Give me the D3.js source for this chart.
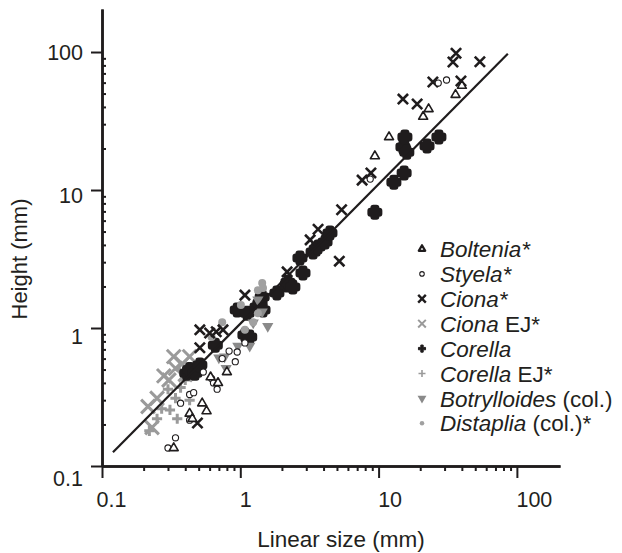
<!DOCTYPE html>
<html>
<head>
<meta charset="utf-8">
<script src="https://cdn.jsdelivr.net/npm/d3@7"></script>
<style>
body { margin: 0; background: #fff; }
text { font-family: "Liberation Sans", Arial, sans-serif; fill: #231f20; }
</style>
</head>
<body>
<svg id="chart" width="622" height="553"></svg>
<script>
// [linear size (mm), height (mm)]
var boltenia = [[0.33,0.135],[0.43,0.24],[0.45,0.22],[0.53,0.285],[0.57,0.25],[0.61,0.44],[0.69,0.40],[0.80,0.48],
    [9.4,17.6],[11.9,24.2],[21,34],[23,38.6],[36,49],[40,57]];
var styela = [[0.30,0.135],[0.34,0.16],[0.37,0.285],[0.43,0.215],[0.43,0.33],[0.46,0.34],[0.54,0.48],[0.62,0.43],
    [0.64,0.40],[0.68,0.36],[0.74,0.60],[0.83,0.68],[0.92,0.57],[0.95,0.67],[1.08,0.78],[8.7,12],[27,59.6],[31,62.7]];
var ciona = [[0.49,0.205],[0.51,0.72],[0.51,0.97],[0.6,0.92],[0.67,0.94],[0.75,0.97],[1.08,1.73],[2.18,2.55],
    [3.2,4.35],[3.65,5.2],[5.2,3.05],[5.4,7.2],[7.6,11.8],[8.8,13.3],[15,45.6],[19,42],[24.7,60.6],[34.5,84.7],
    [36.3,98],[39.4,61.6],[54,85]];
var cionaEJ = [[0.215,0.27],[0.23,0.19],[0.25,0.31],[0.28,0.45],[0.305,0.42],[0.33,0.62],[0.34,0.51],[0.38,0.55],
    [0.4,0.46],[0.43,0.62]];
var corella = [[0.41,0.47],[0.43,0.50],[0.47,0.47],[0.51,0.54],[0.66,0.75],[0.95,1.35],[1.08,0.89],[1.12,1.28],
    [1.17,0.86],[1.32,1.42],[1.39,1.52],[1.44,1.68],[1.46,1.35],[1.84,1.79],[2.18,2.05],[2.21,2.15],[2.4,1.98],
    [2.7,3.22],[2.84,2.5],[3.36,3.55],[3.65,3.86],[4.1,4.2],[4.45,4.88],[9.4,6.9],[12.9,11.4],[15,20.5],
    [15.3,13.3],[15.5,24.2],[16,18.8],[22.4,20.8],[27.3,24.2]];
var corellaEJ = [[0.22,0.18],[0.25,0.22],[0.27,0.26],[0.30,0.36],[0.31,0.255],[0.34,0.31],[0.35,0.22],[0.37,0.37],
    [0.4,0.42],[0.43,0.30]];
var botrylloides = [[0.70,0.61],[0.77,0.62],[0.79,0.51],[0.96,0.74],[1.17,0.74],[1.24,1.09],[1.34,1.6],[1.44,1.31],[1.58,1.03]];
var distaplia = [[0.62,0.86],[0.74,1.10],[1.01,1.47],[1.08,0.97],[1.24,1.10],[1.34,1.28],[1.34,1.88],[1.44,2.12],[1.46,1.95]];

// fitted line end points
var fitLine = [[0.12,0.126],[86,97]];

var majorTicks = [0.1, 1, 10, 100];
var minorTicks = [0.2,0.3,0.4,0.5,0.6,0.7,0.8,0.9, 2,3,4,5,6,7,8,9, 20,30,40,50,60,70,80,90];

var legendNames = [["Boltenia","*",""],["Styela","*",""],["Ciona","*",""],["Ciona","","EJ*"],["Corella","",""],
    ["Corella","","EJ*"],["Botrylloides","","(col.)"],["Distaplia","","(col.)*"]];

var ink = "#1f1c1d", grey = "#9a9a9a";

// marker styles, same order as legendNames
var series = [
    {data: boltenia, type: d3.symbolTriangle2, size: 58, lsize: 30, fill: "#fff", stroke: ink, sw: 1.6, lsw: 2.2},
    {data: styela, type: d3.symbolCircle, size: 30, lsize: 16, fill: "#fff", stroke: ink, sw: 1.1, lsw: 1.1},
    {data: ciona, type: d3.symbolX, size: 70, lsize: 40, fill: "none", stroke: ink, sw: 2.6, lsw: 2.4},
    {data: cionaEJ, type: d3.symbolX, size: 125, lsize: 40, fill: "none", stroke: grey, sw: 3, lsw: 2},
    {data: corella, type: d3.symbolCross, size: 45, lsize: 28, fill: ink, stroke: ink, sw: 6, lsw: 1},
    {data: corellaEJ, type: d3.symbolPlus, size: 36, lsize: 18, fill: "none", stroke: grey, sw: 3, lsw: 1.6},
    {data: botrylloides, type: d3.symbolTriangle, size: 55, lsize: 34, fill: "#8a8a8a", stroke: "none", sw: 0, lsw: 0, flip: true},
    {data: distaplia, type: d3.symbolCircle, size: 50, lsize: 16, fill: "#a0a0a0", stroke: "none", sw: 0, lsw: 0}
];

var svg = d3.select("#chart");

var x = d3.scaleLog().domain([0.1, 205]).range([102, 560]);
var y = d3.scaleLog().domain([0.1, 205]).range([466, 9]);

function marker(g, s, inLegend) {
    return g.append("path")
        .attr("d", d3.symbol(s.type, inLegend ? s.lsize : s.size)())
        .attr("fill", s.fill)
        .attr("stroke", s.stroke)
        .attr("stroke-width", inLegend ? s.lsw : s.sw)
        .attr("stroke-linejoin", "round");
}

// points: greys underneath, black on top
var drawOrder = [5, 3, 4, 6, 7, 2, 1, 0];
drawOrder.forEach(function(i) {
    var s = series[i];
    s.data.forEach(function(d) {
        var g = svg.append("g")
            .attr("transform", "translate(" + x(d[0]) + "," + y(d[1]) + ")" + (s.flip ? " rotate(180)" : ""));
        marker(g, s, false);
    });
});

// fitted line
svg.append("path")
    .datum(fitLine)
    .attr("fill", "none")
    .attr("stroke", ink)
    .attr("stroke-width", 2.2)
    .attr("d", d3.line().x(d => x(d[0])).y(d => y(d[1])));

// axes
var fmt = d3.format("~g");
var yLabelShift = {0.1: 13, 1: 9, 10: 6, 100: 1};
var xLabelShift = {0.1: 9, 1: 5, 10: 11, 100: 17};

var yMinor = svg.append("g").attr("transform", "translate(102,0)")
    .call(d3.axisLeft(y).tickValues(minorTicks).tickSize(-4).tickSizeOuter(0).tickFormat(""));
var xMinor = svg.append("g").attr("transform", "translate(0,466)")
    .call(d3.axisBottom(x).tickValues(minorTicks).tickSize(5).tickSizeOuter(0).tickFormat(""));

var yAxis = svg.append("g").attr("transform", "translate(102,0)")
    .call(d3.axisLeft(y).tickValues(majorTicks).tickSize(11).tickSizeOuter(0).tickPadding(8).tickFormat(fmt));
var xAxis = svg.append("g").attr("transform", "translate(0,466)")
    .call(d3.axisBottom(x).tickValues(majorTicks).tickSize(12).tickSizeOuter(0).tickPadding(14).tickFormat(fmt));

[yMinor, xMinor, yAxis, xAxis].forEach(function(a) {
    a.select(".domain").attr("stroke", ink).attr("stroke-width", 2.5);
    a.selectAll(".tick line").attr("stroke", ink).attr("stroke-width", 2);
    a.selectAll(".tick text").attr("fill", "#231f20")
        .style("font-family", "'Liberation Sans', Arial, sans-serif").style("font-size", "21.5px");
});
yAxis.selectAll(".tick text").attr("y", d => yLabelShift[d]);
xAxis.selectAll(".tick text").attr("x", d => xLabelShift[d]);

// axis titles
svg.append("text")
    .attr("x", 341).attr("y", 547)
    .attr("text-anchor", "middle")
    .style("font-size", "22.5px")
    .text("Linear size (mm)");

svg.append("text")
    .attr("transform", "translate(27,259) rotate(-90)")
    .attr("text-anchor", "middle")
    .style("font-size", "22px")
    .text("Height (mm)");

// legend
legendNames.forEach(function(nm, i) {
    var s = series[i];
    var row = svg.append("g").attr("transform", "translate(422," + (249 + i * 24.9) + ")");
    var m = row.append("g").attr("transform", s.flip ? "rotate(180)" : null);
    marker(m, s, true);
    var t = row.append("text").attr("x", 18).attr("dy", "0.36em").style("font-size", "22.5px");
    t.append("tspan").style("font-style", "italic").text(nm[0] + nm[1]);
    if (nm[2]) t.append("tspan").text(" " + nm[2]);
});
</script>
</body>
</html>
